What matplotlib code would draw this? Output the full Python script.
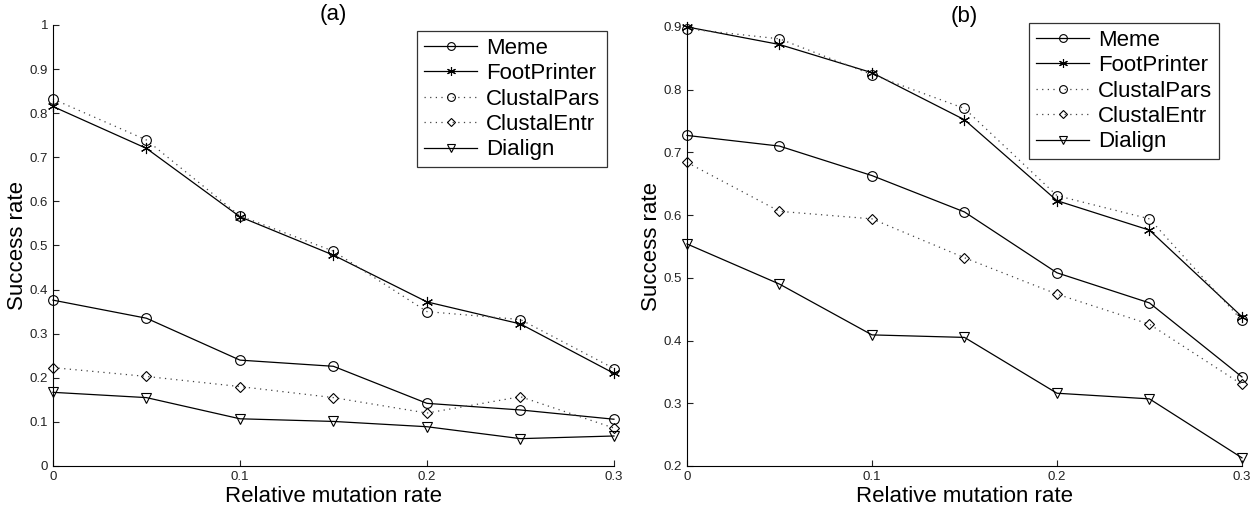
import matplotlib.pyplot as plt
from matplotlib.ticker import FuncFormatter

plt.rcParams['font.family'] = ['Liberation Sans', 'DejaVu Sans']

# Donnees
mutation_rates = [0, 0.05, 0.1, 0.15, 0.2, 0.25, 0.3]
methods = ['Meme', 'FootPrinter', 'ClustalPars', 'ClustalEntr', 'Dialign']

meme_a = [0.376, 0.335, 0.240, 0.226, 0.142, 0.127, 0.106]
footprinter_a = [0.815, 0.720, 0.565, 0.478, 0.372, 0.322, 0.210]
clustalpars_a = [0.832, 0.739, 0.567, 0.487, 0.350, 0.332, 0.221]
clustalentr_a = [0.223, 0.203, 0.180, 0.155, 0.120, 0.157, 0.086]
dialign_a = [0.167, 0.155, 0.107, 0.101, 0.089, 0.062, 0.068]

meme_b = [0.727, 0.710, 0.663, 0.605, 0.508, 0.460, 0.342]
footprinter_b = [0.900, 0.872, 0.827, 0.752, 0.623, 0.576, 0.438]
clustalpars_b = [0.897, 0.881, 0.824, 0.770, 0.631, 0.594, 0.432]
clustalentr_b = [0.684, 0.606, 0.594, 0.532, 0.474, 0.426, 0.330]
dialign_b = [0.554, 0.490, 0.409, 0.405, 0.316, 0.307, 0.213]

x_ticks = [0, 0.1, 0.2, 0.3]
y_ticks_a = [0, 0.1, 0.2, 0.3, 0.4, 0.5, 0.6, 0.7, 0.8, 0.9, 1]
y_ticks_b = [0.2, 0.3, 0.4, 0.5, 0.6, 0.7, 0.8, 0.9]

dotted = (0, (1, 3.5))
asterisk = (6, 2, 0)
styles = [
    dict(linestyle='-', color='black', marker='o', markersize=7, mfc='none'),
    dict(linestyle='-', color='black', marker=asterisk, markersize=8),
    dict(linestyle=dotted, color='#444444', marker='o', markersize=7, mfc='none', mec='black'),
    dict(linestyle=dotted, color='#444444', marker='D', markersize=5.5, mfc='none', mec='black'),
    dict(linestyle='-', color='black', marker='v', markersize=7, mfc='none'),
]


# Dessine un panneau complet
def plot_panel(ax, series, title, ylim, yticks, legend_anchor):
    for values, name, st in zip(series, methods, styles):
        ax.plot(mutation_rates, values, linewidth=0.9,
                markeredgewidth=0.8, label=name, clip_on=False, **st)
    ax.set_xlim(0, 0.3)
    ax.set_ylim(*ylim)
    ax.set_xticks(x_ticks)
    ax.set_yticks(yticks)
    fmt = FuncFormatter(lambda v, p: ('%g' % round(v, 2)))
    ax.xaxis.set_major_formatter(fmt)
    ax.yaxis.set_major_formatter(fmt)
    ax.tick_params(direction='in', length=4, labelsize=9.5, width=0.8, colors='#222222')
    ax.spines['top'].set_visible(False)
    ax.spines['right'].set_visible(False)
    ax.set_xlabel('Relative mutation rate', fontsize=16, labelpad=2)
    ax.set_ylabel('Success rate', fontsize=16, labelpad=1)
    ax.set_title(title, fontsize=16, pad=-2)
    leg = ax.legend(loc='upper right', bbox_to_anchor=legend_anchor,
                    bbox_transform=ax.figure.transFigure, fontsize=16,
                    frameon=True, fancybox=False, edgecolor='black',
                    borderpad=0.3, labelspacing=0.2, handlelength=2.4,
                    handletextpad=0.4, borderaxespad=0, markerscale=0.8)
    leg.get_frame().set_linewidth(0.9)


fig = plt.figure(figsize=(12.55, 5.07), dpi=100)
ax_a = fig.add_axes([0.0422, 0.0809, 0.447, 0.870])
ax_b = fig.add_axes([0.5474, 0.0809, 0.4422, 0.866])

plot_panel(ax_a, [meme_a, footprinter_a, clustalpars_a, clustalentr_a, dialign_a],
           '(a)', (0, 1), y_ticks_a, (607 / 1255, 1 - 31 / 507))
plot_panel(ax_b, [meme_b, footprinter_b, clustalpars_b, clustalentr_b, dialign_b],
           '(b)', (0.2, 0.9), y_ticks_b, (1219 / 1255, 1 - 23 / 507))

fig.savefig('out.png', dpi=100)
